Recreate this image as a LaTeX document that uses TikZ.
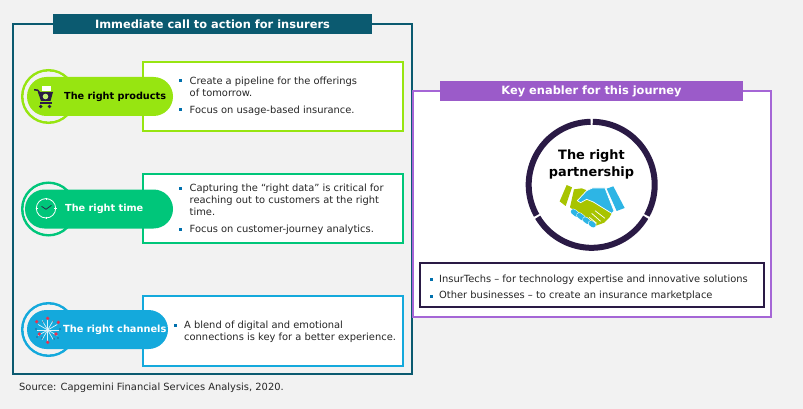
\documentclass[tikz,border=0pt]{standalone}
\usepackage{fontspec}
\setmainfont{DejaVu Sans}
\definecolor{bgc}{HTML}{F2F2F2}
\definecolor{teal}{HTML}{0B5A70}
\definecolor{purp}{HTML}{A566D6}
\definecolor{purpd}{HTML}{9B5BC9}
\definecolor{ink}{HTML}{2A1A45}
\definecolor{cgreen}{HTML}{97E511}
\definecolor{cmint}{HTML}{00C67A}
\definecolor{cblue}{HTML}{14A9DC}
\definecolor{txt}{HTML}{262626}
\definecolor{bul}{HTML}{0070AD}
\definecolor{hgreen}{HTML}{A8C400}
\definecolor{hblue}{HTML}{2DB5E5}
\definecolor{spark}{HTML}{E8304F}
\tikzset{x=1pt,y=-1pt,
 body/.style={font=\fontsize{9.9}{12.4}\selectfont,text=txt,align=left,anchor=north west,inner sep=0pt},
 bar/.style={font=\fontsize{11.4}{13}\selectfont\bfseries,text=white,inner sep=0pt},
 pilllabel/.style={font=\fontsize{9.7}{11}\selectfont\bfseries,inner sep=0pt},
 bulletmark/.style={fill=bul,minimum size=3pt,inner sep=0pt,draw=none,rectangle}}
\newcommand{\bullets}[2]{\node[bulletmark] at (#1,#2) {};}
\begin{document}
\begin{tikzpicture}
\useasboundingbox (0,0) rectangle (803,409);
\fill[bgc] (0,0) rectangle (803,409);
% left frame
\draw[teal,line width=1.8pt] (13,24) rectangle (412,374);
\node[fill=teal,minimum width=319pt,minimum height=20pt,inner sep=0pt] (ltitle) at (212.5,24) {};
\node[bar] at (212.5,24.5) {Immediate call to action for insurers};
% rows
\foreach \yc/\col/\bt/\bb/\pl/\pr in {96.5/cgreen/62/131/27/173,209/cmint/174/243/25/173,329.5/cblue/296/366/27/168}{
  \draw[\col,line width=2.6pt] (48.5,\yc) circle (26.2);
  \fill[bgc] (48.5,\yc) circle (24.9);
  \draw[\col,line width=2pt,fill=white] (143,\bt) rectangle (403,\bb);
  \fill[\col,rounded corners=19.5pt] (\pl,\yc-19.5) rectangle (\pr,\yc+19.5);
}
% cart
\fill[white] (42,86) rectangle (51,91);
\fill[ink] (34,89) -- (38,89.5) -- (40,92) -- (53,92) -- (50.5,101) -- (41,101) -- (37.5,91) -- (34,90.5) -- cycle;
\fill[ink] (40,102.5) rectangle (52,104);
\fill[ink] (40.7,106.5) circle (1.9) (49.5,106.5) circle (1.9);
\fill[cgreen!60!white] (45.5,96.5) circle (2.8);
\node[pilllabel,text=black,anchor=west] (t1) at (64,96.7) {The right products};
% clock
\draw[white,line width=.8pt] (46,208.3) circle (9.7);
\draw[white,line width=.9pt] (46,197.5) -- (46,200) (46,216.5) -- (46,219) (35.5,208.3) -- (38,208.3) (54,208.3) -- (56.5,208.3);
\draw[ink,line width=.7pt] (41.5,206.3) -- (46,209.3) -- (51.5,205.3);
\node[pilllabel,text=white,anchor=west] (t2) at (65,208.7) {The right time};
% sparkle
\foreach \a in {0,30,...,330}{\draw[white!85!cblue,line width=.7pt] (47.7,330) -- ++(\a:11);}
\foreach \px/\py in {47.7/318.3,58.3/322.3,36.7/321.7,39.3/334,56/334,47.7/342.3}{\fill[spark] (\px,\py) circle (1.8);}
\foreach \px/\py in {43/322,53/321,60/329,36/329,42/338,54/339,58/338,37/337}{\fill[ink] (\px,\py) circle (.6);}
\node[pilllabel,font=\fontsize{9.8}{11}\selectfont\bfseries,text=white,anchor=west] (t3) at (63,330) {The right channels};
% row texts
\bullets{180}{81}
\node[body] (r1a) at (189.5,76.3) {Create a pipeline for the offerings\\of tomorrow.};
\bullets{180}{110}
\node[body] (r1b) at (189.5,105.3) {Focus on usage-based insurance.};
\bullets{180}{188}
\node[body] (r2a) at (189.5,183.3) {Capturing the “right data” is critical for\\reaching out  to customers at the right\\time.};
\bullets{180}{229}
\node[body] (r2b) at (189.5,224.3) {Focus on customer-journey analytics.};
\bullets{175}{325}
\node[body] (r3) at (184,320.3) {A blend of digital and emotional\\connections is key for a better experience.};
\node[body,anchor=west] (src) at (19,387.5) {Source: Capgemini Financial Services Analysis, 2020.};
% right frame
\draw[purp,line width=1.8pt,fill=white] (413,91) rectangle (771,317);
\node[fill=purpd,minimum width=303pt,minimum height=20pt,inner sep=0pt] (rtitle) at (591.5,91) {};
\node[bar] at (591.5,91.5) {Key enabler for this journey};
% ring
\foreach \s/\e in {-89/29,31/149,151/269}{
  \draw[ink,line width=6pt] (591.7,184.8) ++(\s:63) arc[start angle=\s,end angle=\e,radius=63];
}
\node[font=\fontsize{12.9}{17}\selectfont\bfseries,text=black,align=center,inner sep=0pt] (part) at (591.5,164) {The right\\partnership};
% handshake
\begin{scope}[shift={(550,180)},x=.3333pt,y=-.3333pt]
\fill[hgreen] (50,15) -- (66,22) -- (47,78) -- (29,64) -- cycle;
\fill[hgreen] (72,28) -- (95,25) -- (108,30) -- (130,65) -- (185,100) -- (178,113) -- (163,128) -- (135,138) -- (60,82) -- cycle;
\fill[hblue] (170,26) -- (190,19) -- (224,84) -- (200,93) -- cycle;
\fill[hblue,draw=white,line width=.7pt] (82,62) -- (110,32) -- (127,24) -- (165,24) -- (192,93) -- (185,100) -- (130,66) -- (110,58) -- (92,68) -- cycle;
\foreach \xa/\ya/\xb/\yb in {70/95/80/103,88/106/98/114,106/119/114/125,123/130/130/135}{
  \draw[white,line width=6pt,line cap=round] (\xa,\ya) -- (\xb,\yb);
  \draw[hblue,line width=5pt,line cap=round] (\xa,\ya) -- (\xb,\yb);}
\draw[white,line width=.7pt] (135,92) -- (165,115) (125,100) -- (152,124) (118,112) -- (140,130);
\end{scope}
% inner box
\draw[ink,line width=1.4pt,fill=white] (420,263) rectangle (764,307);
\bullets{431}{279.5}
\node[body,anchor=west] (p1) at (439,279.5) {InsurTechs – for technology expertise and innovative solutions};
\bullets{431}{296}
\node[body,anchor=west] (p2) at (439,296) {Other businesses – to create an insurance marketplace};
\end{tikzpicture}
\end{document}
